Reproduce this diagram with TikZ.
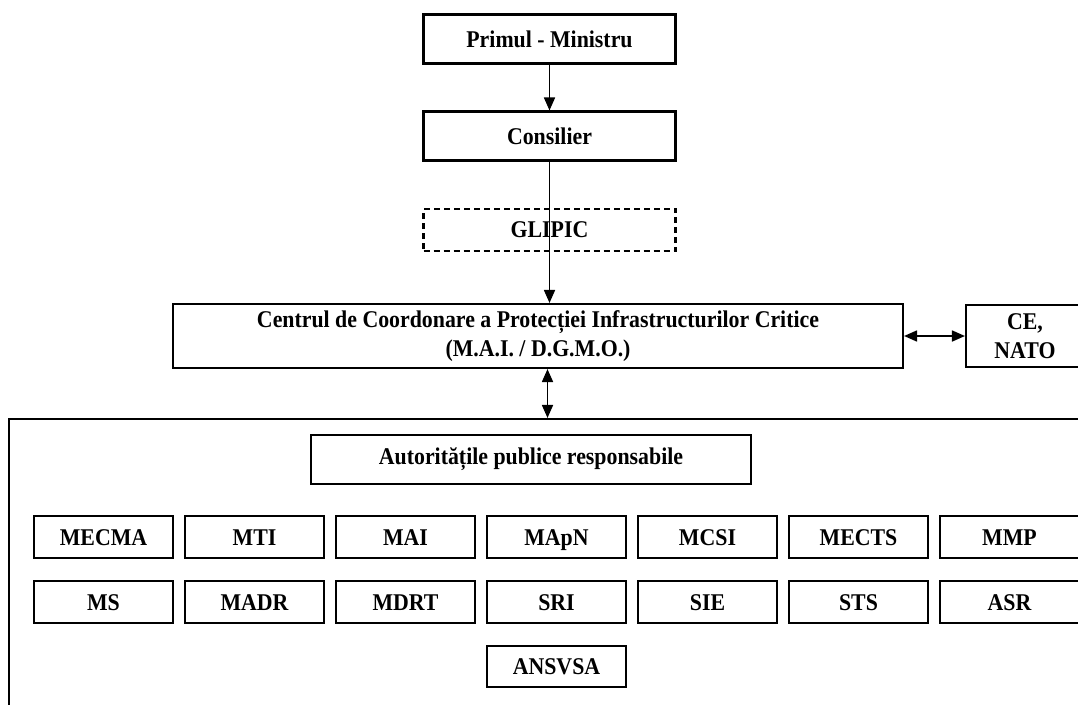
\documentclass[tikz,border=0pt]{standalone}
\usepackage{fontspec}
\setmainfont{Liberation Serif}[FakeStretch=0.91]
\usetikzlibrary{arrows.meta,calc}
\begin{document}
\begin{tikzpicture}[x=1pt,y=-1pt,
  box/.style={draw,line width=2.1pt,rectangle,inner sep=0pt,align=center,
    font=\fontsize{24}{29}\selectfont\bfseries},
  agency/.style={box,minimum width=139pt,minimum height=42pt,text height=16pt,text depth=0pt},
  arr/.style={line width=1.7pt,-{Triangle[length=13pt,width=11pt]}},
  darr/.style={line width=1.7pt,{Triangle[length=13pt,width=11pt]}-{Triangle[length=13pt,width=11pt]}}]
\clip (0,0) rectangle (1078,704);
\fill[white] (0,0) rectangle (1078,704);
% outer frame (cut by the page)
\node[draw,line width=2.1pt,minimum width=1081pt,minimum height=302pt,inner sep=0pt] (big) at (549.5,570) {};
\node[box,minimum width=252pt,minimum height=49pt] (pm) at (549.5,39) {Primul - Ministru};
\node[box,minimum width=252pt,minimum height=49pt] (cons) at (549.5,136) {Consilier};
\node[box,dash pattern=on 6pt off 4pt,minimum width=252pt,minimum height=42pt] (glipic) at (549.5,230) {GLIPIC};
\node[box,minimum width=730pt,minimum height=64pt] (ccpic) at (538,336) {Centrul de Coordonare a Protecției Infrastructurilor Critice\\(M.A.I. / D.G.M.O.)};
\node[box,minimum width=118pt,minimum height=62pt] (ce) at (1025,336) {CE,\\NATO};
\node[box,minimum width=440pt,minimum height=49pt] (apr) at (531,459.5) {Autoritățile publice responsabile};
% row 1
\node[agency] (mecma) at (103.5,537) {MECMA};
\node[agency] (mti) at (254.5,537) {MTI};
\node[agency] (mai) at (405.5,537) {MAI};
\node[agency] (mapn) at (556.5,537) {MApN};
\node[agency] (mcsi) at (707.5,537) {MCSI};
\node[agency] (mects) at (858.5,537) {MECTS};
\node[agency] (mmp) at (1009.5,537) {MMP};
% row 2
\node[agency] (ms) at (103.5,602) {MS};
\node[agency] (madr) at (254.5,602) {MADR};
\node[agency] (mdrt) at (405.5,602) {MDRT};
\node[agency] (sri) at (556.5,602) {SRI};
\node[agency] (sie) at (707.5,602) {SIE};
\node[agency] (sts) at (858.5,602) {STS};
\node[agency] (asr) at (1009.5,602) {ASR};
\node[agency,minimum height=41pt] (ansvsa) at (556.5,666.5) {ANSVSA};
% connectors
\draw[arr] (pm.south) -- (cons.north);
\draw[arr] (cons.south) -- (ccpic.north -| cons.south);
\draw[darr] (ccpic.east) -- (ce.west);
\draw[darr] (ccpic.south -| 547.5,0) -- (big.north -| 547.5,0);
\end{tikzpicture}
\end{document}
